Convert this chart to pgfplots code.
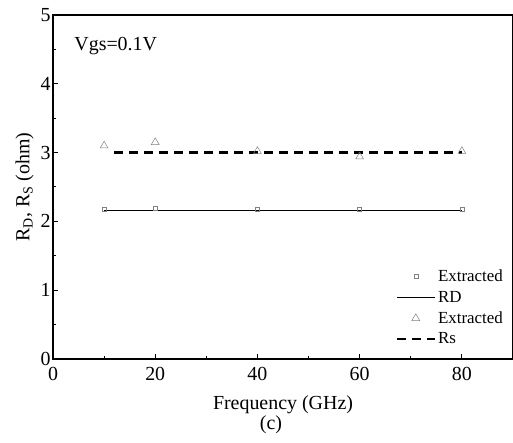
\documentclass[border=0pt]{standalone}
\usepackage{pgfplots}
\pgfplotsset{compat=1.18}
\usepackage{fontspec}
\setmainfont{Liberation Serif}
\begin{document}
\begin{tikzpicture}
\begin{axis}[
  scale only axis,
  width=460bp, height=344bp,
  xmin=0, xmax=90, ymin=0, ymax=5,
  xtick={0,20,40,60,80}, ytick={0,1,2,3,4,5},
  minor xtick={10,30,50,70},
  minor ytick={0.5,1.5,2.5,3.5,4.5},
  tick align=inside,
  xtick pos=bottom, ytick pos=left,
  major tick length=5bp, minor tick length=3bp,
  axis line style={line width=1.3pt},
  every tick/.style={black, line width=1pt},
  /pgf/number format/assume math mode=true,
  tick label style={font=\fontsize{20}{22}\selectfont},
  xticklabel style={yshift=-5bp},
  yticklabel style={xshift=1bp},
  xlabel={Frequency (GHz)},
  ylabel={R$_\mathrm{D}$, R$_\mathrm{S}$ (ohm)},
  label style={font=\fontsize{20}{22}\selectfont},
  xlabel style={yshift=-8bp},
  ylabel style={yshift=0bp},
  legend style={draw=none, fill=none, at={(0.985,0.03)}, anchor=south east,
    font=\fontsize{17}{19}\selectfont, row sep=4bp, inner sep=1pt,
    nodes={inner xsep=2bp}},
  legend cell align=left,
  legend image code/.code={\draw[mark repeat=2,mark phase=2,#1] plot coordinates {(0bp,0bp)(19bp,0bp)(38bp,0bp)};},
]
\addplot[only marks, mark=square, mark size=2bp, gray, mark options={line width=0.5pt}]
 coordinates {(10,2.18) (20,2.19) (40,2.17) (60,2.17) (80,2.17)};
\addlegendentry{Extracted}
\addplot[black, line width=1.3pt, no marks]
 coordinates {(10,2.16) (80,2.16)};
\addlegendentry{RD}
\addplot[only marks, mark=triangle, mark size=4.5bp, gray, mark options={line width=0.5pt}]
 coordinates {(10,3.10) (20,3.15) (40,3.02) (60,2.94) (80,3.02)};
\addlegendentry{Extracted}
\addplot[black, line width=2.5pt, no marks, dash pattern=on 9bp off 6bp]
 coordinates {(12,3.0) (80,3.0)};
\addlegendentry{Rs}
\node[font=\fontsize{20}{22}\selectfont, anchor=west] at (axis cs:3.5,4.55) {Vgs=0.1V};
\end{axis}
\node[font=\fontsize{20}{22}\selectfont] at ([xshift=-12bp, yshift=-66bp]current axis.south) {(c)};
\pgfresetboundingbox
\path ([xshift=-53bp, yshift=-84bp]current axis.south west) rectangle ([yshift=15bp]current axis.north east);
\end{tikzpicture}
\end{document}
